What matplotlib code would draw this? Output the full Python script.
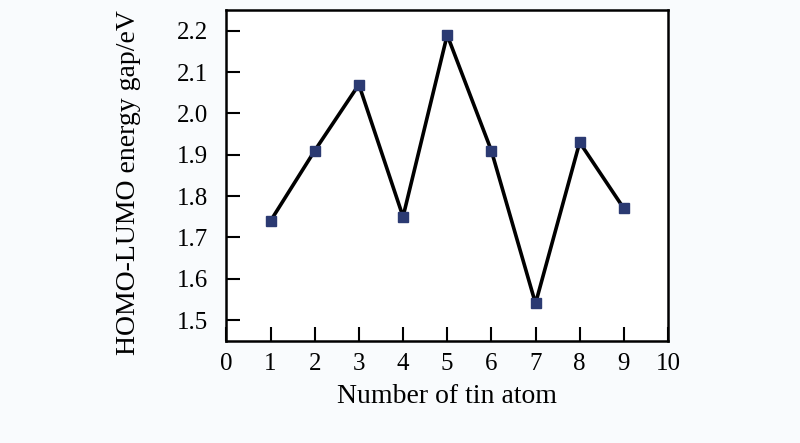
import matplotlib
matplotlib.use("Agg")
import matplotlib.pyplot as plt

atoms = [1, 2, 3, 4, 5, 6, 7, 8, 9]
gap = [1.74, 1.91, 2.07, 1.75, 2.19, 1.91, 1.54, 1.93, 1.77]
xticks = [0, 1, 2, 3, 4, 5, 6, 7, 8, 9, 10]
yticks = [1.5, 1.6, 1.7, 1.8, 1.9, 2.0, 2.1, 2.2]

plt.rcParams['font.family'] = ['Liberation Serif', 'DejaVu Serif']

fig = plt.figure(figsize=(8, 4.43), dpi=100)
fig.patch.set_facecolor('#f9fbfd')
ax = fig.add_axes([0.283, 0.231, 0.552, 0.746])
ax.set_facecolor('white')
ax.plot(atoms, gap, color='black', lw=2.6, marker='s', markersize=6.5,
        markerfacecolor='#2b3a72', markeredgecolor='#2b3a72', zorder=3)
ax.set_xlim(0, 10)
ax.set_ylim(1.45, 2.25)
ax.set_xticks(xticks)
ax.set_yticks(yticks)
ax.set_yticklabels([f"{v:.1f}" for v in yticks])
ax.tick_params(direction='in', length=10, width=1.5, labelsize=18,
               top=False, right=False)
ax.tick_params(axis='x', pad=9)
ax.tick_params(axis='y', pad=13)
for s in ax.spines.values():
    s.set_linewidth(1.8)
ax.set_xlabel('Number of tin atom', fontsize=20, labelpad=6)
ax.set_ylabel('HOMO-LUMO energy gap/eV', fontsize=20)
ax.yaxis.set_label_coords(-0.194, 0.477)
fig.savefig('out.png', dpi=100, facecolor=fig.get_facecolor())
